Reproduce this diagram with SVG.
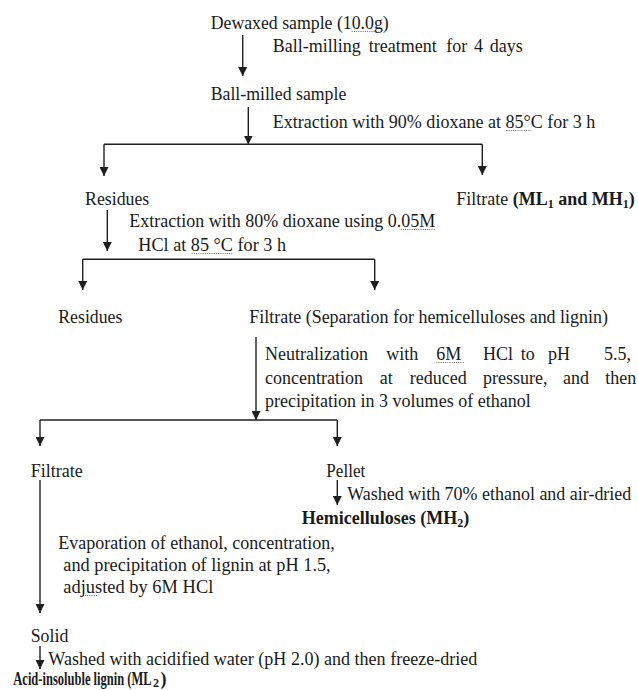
<svg xmlns="http://www.w3.org/2000/svg" width="638" height="690" viewBox="0 0 638 690">
<style>
text{font-family:"Liberation Serif","Times New Roman",serif;font-size:18px;fill:#1a1a1a}
.b{font-weight:bold}
.sub{font-size:12px}
.ln{fill:none;stroke:#1f1f1f;stroke-width:1.4}
.arr{marker-end:url(#ah)}
.dot{stroke:#666;stroke-width:1;stroke-dasharray:1 1.2;fill:none}
</style>
<defs>
<marker id="ah" viewBox="0 0 10 10" refX="10" refY="5" markerWidth="9" markerHeight="9" markerUnits="userSpaceOnUse" orient="auto">
<path d="M0,0 L10,5 L0,10 z" fill="#1f1f1f"/>
</marker>
</defs>
<g id="connectors">
<path class="ln arr" d="M242.7,35 V76"/>
<path class="ln arr" d="M248.3,107 V144.5"/>
<path class="ln" d="M104,144.3 H482.3"/>
<path class="ln arr" d="M104,144.3 V176"/>
<path class="ln arr" d="M482.3,144.3 V175"/>
<path class="ln arr" d="M107.3,210 V251"/>
<path class="ln" d="M82.7,259.3 H374.7"/>
<path class="ln arr" d="M82.7,259.3 V290"/>
<path class="ln arr" d="M374.7,259.3 V290"/>
<path class="ln arr" d="M256,337 V420"/>
<path class="ln" d="M40,420 H337.3"/>
<path class="ln arr" d="M40,420 V446"/>
<path class="ln arr" d="M337.3,420 V446"/>
<path class="ln arr" d="M40,480 V613"/>
<path class="ln arr" d="M337.3,480 V505"/>
<path class="ln arr" d="M40,646 V669"/>
</g>
<g id="marks">
<path class="dot" d="M351.7,31.5 H378.3"/>
<path class="dot" d="M506.3,130.5 H531.3"/>
<path class="dot" d="M400.7,229.5 H435.3"/>
<path class="dot" d="M191.7,253.5 H233.3"/>
<path class="dot" d="M436.3,362.5 H464"/>
<path class="dot" d="M82.7,595.5 H97"/>
</g>
<g id="dewaxed"><text x="210.7" y="29" textLength="178" lengthAdjust="spacingAndGlyphs">Dewaxed sample (10.0g)</text></g>
<g id="step-ballmill"><text y="52"><tspan x="272.7">Ball-milling</tspan><tspan x="368.7">treatment</tspan><tspan x="446.3">for</tspan><tspan x="474">4</tspan><tspan x="489.7">days</tspan></text></g>
<g id="ballmilled"><text x="210.7" y="100" textLength="135.6" lengthAdjust="spacingAndGlyphs">Ball-milled sample</text></g>
<g id="step-extract1"><text x="272.7" y="128" textLength="322.6" lengthAdjust="spacingAndGlyphs">Extraction with 90% dioxane at 85°C for 3 h</text></g>
<g id="residues1"><text x="85" y="205" textLength="64.3" lengthAdjust="spacingAndGlyphs">Residues</text></g>
<g id="filtrate1"><text x="456.3" y="205" textLength="178.4" lengthAdjust="spacingAndGlyphs">Filtrate <tspan class="b">(ML</tspan><tspan class="b sub" dy="3">1</tspan><tspan class="b" dy="-3"> and MH</tspan><tspan class="b sub" dy="3">1</tspan><tspan class="b" dy="-3">)</tspan></text></g>
<g id="step-extract2">
<text x="129.3" y="227" textLength="306" lengthAdjust="spacingAndGlyphs">Extraction with 80% dioxane using 0.05M</text>
<text x="138.3" y="251" textLength="147.7" lengthAdjust="spacingAndGlyphs">HCl at 85 °C for 3 h</text>
</g>
<g id="residues2"><text x="58.3" y="323" textLength="64" lengthAdjust="spacingAndGlyphs">Residues</text></g>
<g id="filtrate2"><text x="249.3" y="323" textLength="358.7" lengthAdjust="spacingAndGlyphs">Filtrate (Separation for hemicelluloses and lignin)</text></g>
<g id="step-neutral">
<text y="360"><tspan x="265">Neutralization</tspan><tspan x="386.3">with</tspan><tspan x="436.3">6M</tspan><tspan x="483">HCl</tspan><tspan x="520.7">to</tspan><tspan x="548">pH</tspan><tspan x="604">5.5,</tspan></text>
<text y="383.5"><tspan x="265">concentration</tspan><tspan x="379.7">at</tspan><tspan x="409.7">reduced</tspan><tspan x="483">pressure,</tspan><tspan x="563">and</tspan><tspan x="605.3">then</tspan></text>
<text x="265" y="406.5" textLength="265.7" lengthAdjust="spacingAndGlyphs">precipitation in 3 volumes of ethanol</text>
</g>
<g id="filtrate3"><text x="30.7" y="477" textLength="52" lengthAdjust="spacingAndGlyphs">Filtrate</text></g>
<g id="pellet"><text x="326.3" y="477" textLength="39" lengthAdjust="spacingAndGlyphs">Pellet</text></g>
<g id="step-wash1"><text x="347.3" y="500" textLength="284" lengthAdjust="spacingAndGlyphs">Washed with 70% ethanol and air-dried</text></g>
<g id="hemicelluloses"><text class="b" x="301.7" y="524">Hemicelluloses (MH<tspan class="sub" dy="3">2</tspan><tspan dy="-3">)</tspan></text></g>
<g id="step-evap">
<text x="58.3" y="549" textLength="276.4" lengthAdjust="spacingAndGlyphs">Evaporation of ethanol, concentration,</text>
<text x="63.3" y="571" textLength="267.4" lengthAdjust="spacingAndGlyphs">and precipitation of lignin at pH 1.5,</text>
<text x="63.3" y="593" textLength="150" lengthAdjust="spacingAndGlyphs">adjusted by 6M HCl</text>
</g>
<g id="solid"><text x="30.7" y="642" textLength="37.6" lengthAdjust="spacingAndGlyphs">Solid</text></g>
<g id="step-wash2"><text x="48.3" y="665" textLength="429" lengthAdjust="spacingAndGlyphs">Washed with acidified water (pH 2.0) and then freeze-dried</text></g>
<g id="lignin">
<text class="b" x="13.3" y="685" font-size="17" textLength="138.4" lengthAdjust="spacingAndGlyphs">Acid-insoluble lignin (ML</text>
<text class="b sub" x="153" y="687">2</text>
<text class="b" x="160.5" y="685" font-size="17">)</text>
</g>
</svg>
